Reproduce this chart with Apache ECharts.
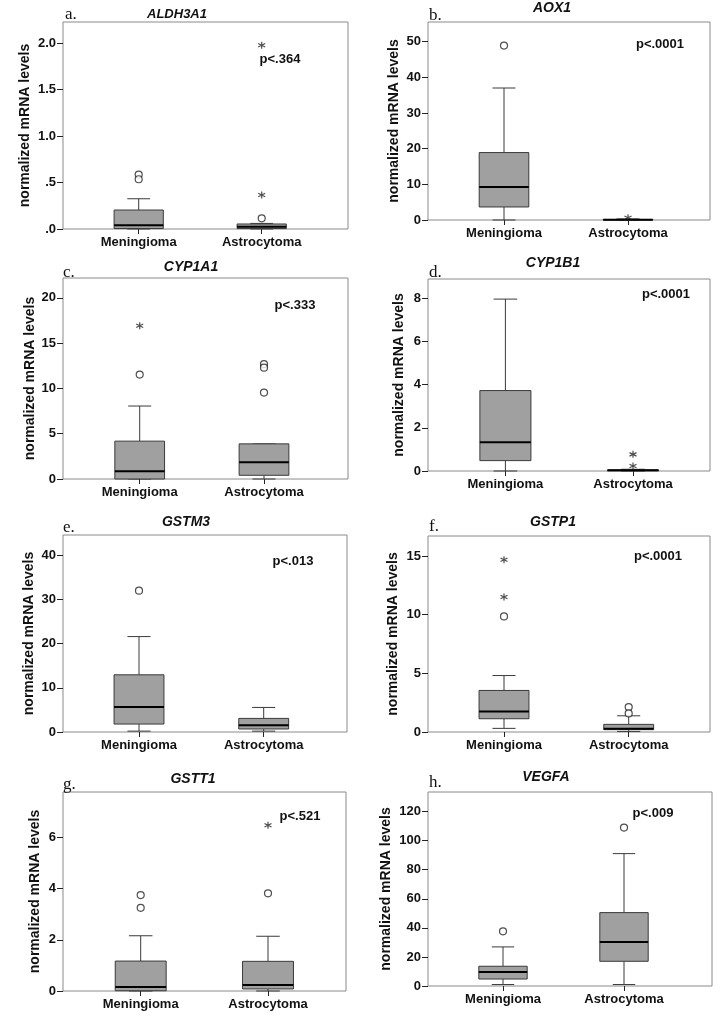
<!DOCTYPE html>
<html>
<head>
<meta charset="utf-8">
<script src="https://cdn.jsdelivr.net/npm/echarts@6/dist/echarts.min.js"></script>
<style>
html,body{margin:0;padding:0;background:#fff;}
#chart{width:720px;height:1018px;}
</style>
</head>
<body>
<div id="chart"></div>
<script>
const categories = ['Meningioma', 'Astrocytoma'];

// box rows: [category, min, Q1, median, Q3, max]
const aldh3a1Box = [[0, 0, 0.005, 0.04, 0.204, 0.325], [1, 0, 0.005, 0.025, 0.054, 0.06]];
const aldh3a1Circles = [[0, 0.585], [0, 0.535], [1, 0.115]];
const aldh3a1Stars = [[1, 0.365], [1, 1.975]];
const aldh3a1Ticks = [0, 0.5, 1, 1.5, 2];
const aldh3a1TickLabels = ['.0', '.5', '1.0', '1.5', '2.0'];

const aox1Box = [[0, 0, 3.65, 9.25, 18.9, 37.0], [1, 0, 0.02, 0.05, 0.15, 0.3]];
const aox1Circles = [[0, 48.9]];
const aox1Stars = [[1, 0.65]];
const aox1Ticks = [0, 10, 20, 30, 40, 50];

const cyp1a1Box = [[0, 0, 0, 0.85, 4.18, 8.06], [1, 0, 0.41, 1.85, 3.88, 3.88]];
const cyp1a1Circles = [[0, 11.53], [1, 12.68], [1, 12.3], [1, 9.54]];
const cyp1a1Stars = [[0, 16.93]];
const cyp1a1Ticks = [0, 5, 10, 15, 20];

const cyp1b1Box = [[0, 0, 0.48, 1.33, 3.72, 7.95], [1, 0, 0.01, 0.03, 0.05, 0.08]];
const cyp1b1Circles = [];
const cyp1b1Stars = [[1, 0.77], [1, 0.23]];
const cyp1b1Ticks = [0, 2, 4, 6, 8];

const gstm3Box = [[0, 0.2, 1.8, 5.65, 12.95, 21.6], [1, 0.2, 0.68, 1.5, 3.08, 5.56]];
const gstm3Circles = [[0, 32.0]];
const gstm3Stars = [];
const gstm3Ticks = [0, 10, 20, 30, 40];

const gstp1Box = [[0, 0.31, 1.13, 1.75, 3.54, 4.81], [1, 0.05, 0.2, 0.28, 0.65, 1.38]];
const gstp1Circles = [[0, 9.85], [1, 2.12], [1, 1.58]];
const gstp1Stars = [[0, 11.5], [0, 14.67]];
const gstp1Ticks = [0, 5, 10, 15];

const gstt1Box = [[0, 0, 0.01, 0.16, 1.17, 2.16], [1, 0, 0.08, 0.23, 1.16, 2.14]];
const gstt1Circles = [[0, 3.75], [0, 3.25], [1, 3.82]];
const gstt1Stars = [[1, 6.48]];
const gstt1Ticks = [0, 2, 4, 6];

const vegfaBox = [[0, 1.0, 4.8, 9.7, 13.6, 26.9], [1, 1.0, 17.0, 30.3, 50.5, 91.1]];
const vegfaCircles = [[0, 37.6], [1, 109]];
const vegfaStars = [];
const vegfaTicks = [0, 20, 40, 60, 80, 100, 120];

const genes = ['ALDH3A1', 'AOX1', 'CYP1A1', 'CYP1B1', 'GSTM3', 'GSTP1', 'GSTT1', 'VEGFA'];
const letters = ['a.', 'b.', 'c.', 'd.', 'e.', 'f.', 'g.', 'h.'];
const pTexts = ['p<.364', 'p<.0001', 'p<.333', 'p<.0001', 'p<.013', 'p<.0001', 'p<.521', 'p<.009'];
const yMaxes = [2.225, 55.5, 22.2, 8.88, 44.6, 16.7, 7.78, 133.5];

const panelData = [
  {box: aldh3a1Box, circles: aldh3a1Circles, stars: aldh3a1Stars, ticks: aldh3a1Ticks, tickLabels: aldh3a1TickLabels},
  {box: aox1Box, circles: aox1Circles, stars: aox1Stars, ticks: aox1Ticks},
  {box: cyp1a1Box, circles: cyp1a1Circles, stars: cyp1a1Stars, ticks: cyp1a1Ticks},
  {box: cyp1b1Box, circles: cyp1b1Circles, stars: cyp1b1Stars, ticks: cyp1b1Ticks},
  {box: gstm3Box, circles: gstm3Circles, stars: gstm3Stars, ticks: gstm3Ticks},
  {box: gstp1Box, circles: gstp1Circles, stars: gstp1Stars, ticks: gstp1Ticks},
  {box: gstt1Box, circles: gstt1Circles, stars: gstt1Stars, ticks: gstt1Ticks},
  {box: vegfaBox, circles: vegfaCircles, stars: vegfaStars, ticks: vegfaTicks}
];

// layout: frame box, category centre offset & spacing, name gap, title/letter/p positions
const layout = [
  {L: 63, T: 22, W: 285, H: 207, c1: 75.7, s: 123, gap: 31, title: [177, 14], letter: [65, 15], p: [280, 59]},
  {L: 428, T: 22, W: 282, H: 198, c1: 76, s: 124, gap: 27, title: [552, 8], letter: [429, 16], p: [660, 44]},
  {L: 63, T: 278, W: 285, H: 201, c1: 76.7, s: 124.3, gap: 26, title: [191, 267], letter: [63, 273], p: [295, 305]},
  {L: 428, T: 279, W: 282, H: 192, c1: 77.4, s: 127.6, gap: 22, title: [553, 263], letter: [429, 273], p: [666, 294]},
  {L: 63, T: 535, W: 284, H: 197, c1: 76, s: 124.7, gap: 27, title: [186, 522], letter: [63, 528], p: [293, 561]},
  {L: 428, T: 536, W: 282, H: 196, c1: 76, s: 124.7, gap: 28, title: [553, 522], letter: [429, 527], p: [658, 556]},
  {L: 63, T: 792, W: 283, H: 199, c1: 77.7, s: 127.3, gap: 21, title: [193, 779], letter: [63, 785], p: [300, 816]},
  {L: 428, T: 792, W: 284, H: 194, c1: 75, s: 121, gap: 35, title: [546, 777], letter: [429, 783], p: [653, 813]}
];

const FONT = '"Liberation Sans", Arial, Helvetica, sans-serif';
const TXT = '#111';

function renderBox(params, api) {
  const x = api.value(0);
  const v = [1, 2, 3, 4, 5].map(i => api.value(i));
  const band = api.size([1, 0])[0];
  const bw = band * 0.4, cw = band * 0.185;
  const pMin = api.coord([x, v[0]]), pQ1 = api.coord([x, v[1]]), pMed = api.coord([x, v[2]]);
  const pQ3 = api.coord([x, v[3]]), pMax = api.coord([x, v[4]]);
  const cx = pMed[0];
  const wStyle = {stroke: '#3a3a3a', lineWidth: 1, fill: null};
  const children = [
    {type: 'line', shape: {x1: cx, y1: pQ3[1], x2: cx, y2: pMax[1]}, style: wStyle},
    {type: 'line', shape: {x1: cx, y1: pQ1[1], x2: cx, y2: pMin[1]}, style: wStyle},
    {type: 'line', shape: {x1: cx - cw / 2, y1: pMax[1], x2: cx + cw / 2, y2: pMax[1]}, style: wStyle},
    {type: 'line', shape: {x1: cx - cw / 2, y1: pMin[1], x2: cx + cw / 2, y2: pMin[1]}, style: wStyle},
    {type: 'rect', shape: {x: cx - bw / 2, y: pQ3[1], width: bw, height: Math.max(pQ1[1] - pQ3[1], 0.5)},
      style: {fill: '#a0a0a0', stroke: '#3a3a3a', lineWidth: 1}},
    {type: 'line', shape: {x1: cx - bw / 2, y1: pMed[1], x2: cx + bw / 2, y2: pMed[1]},
      style: {stroke: '#000', lineWidth: 2}}
  ];
  return {type: 'group', children: children};
}

const grids = [], xAxes = [], yAxes = [], series = [], graphics = [];

panelData.forEach((pd, i) => {
  const g = layout[i];
  const yMax = yMaxes[i];
  const fi = 2 * i, di = 2 * i + 1;
  // frame grid
  grids.push({left: g.L, top: g.T, width: g.W, height: g.H, show: true,
    borderColor: '#8a8a8a', borderWidth: 1, backgroundColor: 'transparent'});
  // data grid (category band positions)
  grids.push({left: g.L + g.c1 - g.s / 2, top: g.T, width: 2 * g.s, height: g.H});
  xAxes.push({gridIndex: fi, type: 'value', min: 0, max: 1, show: false});
  xAxes.push({gridIndex: di, type: 'category', data: categories, boundaryGap: true,
    axisLine: {show: false},
    axisTick: {show: true, alignWithLabel: true, length: 5, lineStyle: {color: '#222'}},
    axisLabel: {color: TXT, fontFamily: FONT, fontWeight: 'bold', fontSize: 13, margin: 7},
    splitLine: {show: false}});
  const labels = pd.tickLabels;
  yAxes.push({gridIndex: fi, type: 'value', min: 0, max: yMax,
    name: 'normalized mRNA levels', nameLocation: 'middle', nameGap: g.gap,
    nameTextStyle: {color: TXT, fontFamily: FONT, fontWeight: 'bold', fontSize: 14},
    axisLine: {show: false},
    axisTick: {show: true, length: 6, customValues: pd.ticks, lineStyle: {color: '#222'}},
    axisLabel: {color: TXT, fontFamily: FONT, fontWeight: 'bold', fontSize: 13, margin: 7,
      customValues: pd.ticks,
      formatter: labels ? (val) => { const k = pd.ticks.indexOf(val); return k >= 0 ? labels[k] : ''; } : (val) => String(val)},
    splitLine: {show: false}});
  yAxes.push({gridIndex: di, type: 'value', min: 0, max: yMax, show: false, splitLine: {show: false}});

  series.push({type: 'custom', xAxisIndex: di, yAxisIndex: di, renderItem: renderBox,
    encode: {x: 0, y: [1, 2, 3, 4, 5]}, data: pd.box, z: 3});
  series.push({type: 'scatter', xAxisIndex: di, yAxisIndex: di, data: pd.circles,
    symbol: 'circle', symbolSize: 7, z: 4,
    itemStyle: {color: '#fff', borderColor: '#222', borderWidth: 1.2}});
  series.push({type: 'scatter', xAxisIndex: di, yAxisIndex: di, data: pd.stars,
    symbol: 'path://M5,0L5,10M0.67,2.5L9.33,7.5M0.67,7.5L9.33,2.5', symbolSize: 7, z: 4,
    itemStyle: {color: 'transparent', borderColor: '#222', borderWidth: 1.2}});

  graphics.push({type: 'text', x: g.title[0], y: g.title[1], z: 10,
    style: {text: genes[i], fill: TXT, align: 'center', verticalAlign: 'middle',
      font: 'italic bold ' + (i === 0 ? 13 : 14) + 'px ' + FONT}});
  graphics.push({type: 'text', x: g.letter[0], y: g.letter[1], z: 10,
    style: {text: letters[i], fill: TXT, align: 'left', verticalAlign: 'middle',
      font: '17px "Liberation Serif", "Times New Roman", serif'}});
  graphics.push({type: 'text', x: g.p[0], y: g.p[1], z: 10,
    style: {text: pTexts[i], fill: TXT, align: 'center', verticalAlign: 'middle',
      font: 'bold 13px ' + FONT}});
});

const chart = echarts.init(document.getElementById('chart'), null, {renderer: 'canvas'});
chart.setOption({
  backgroundColor: '#fff',
  animation: false,
  grid: grids,
  xAxis: xAxes,
  yAxis: yAxes,
  series: series,
  graphic: graphics
});
</script>
</body>
</html>
